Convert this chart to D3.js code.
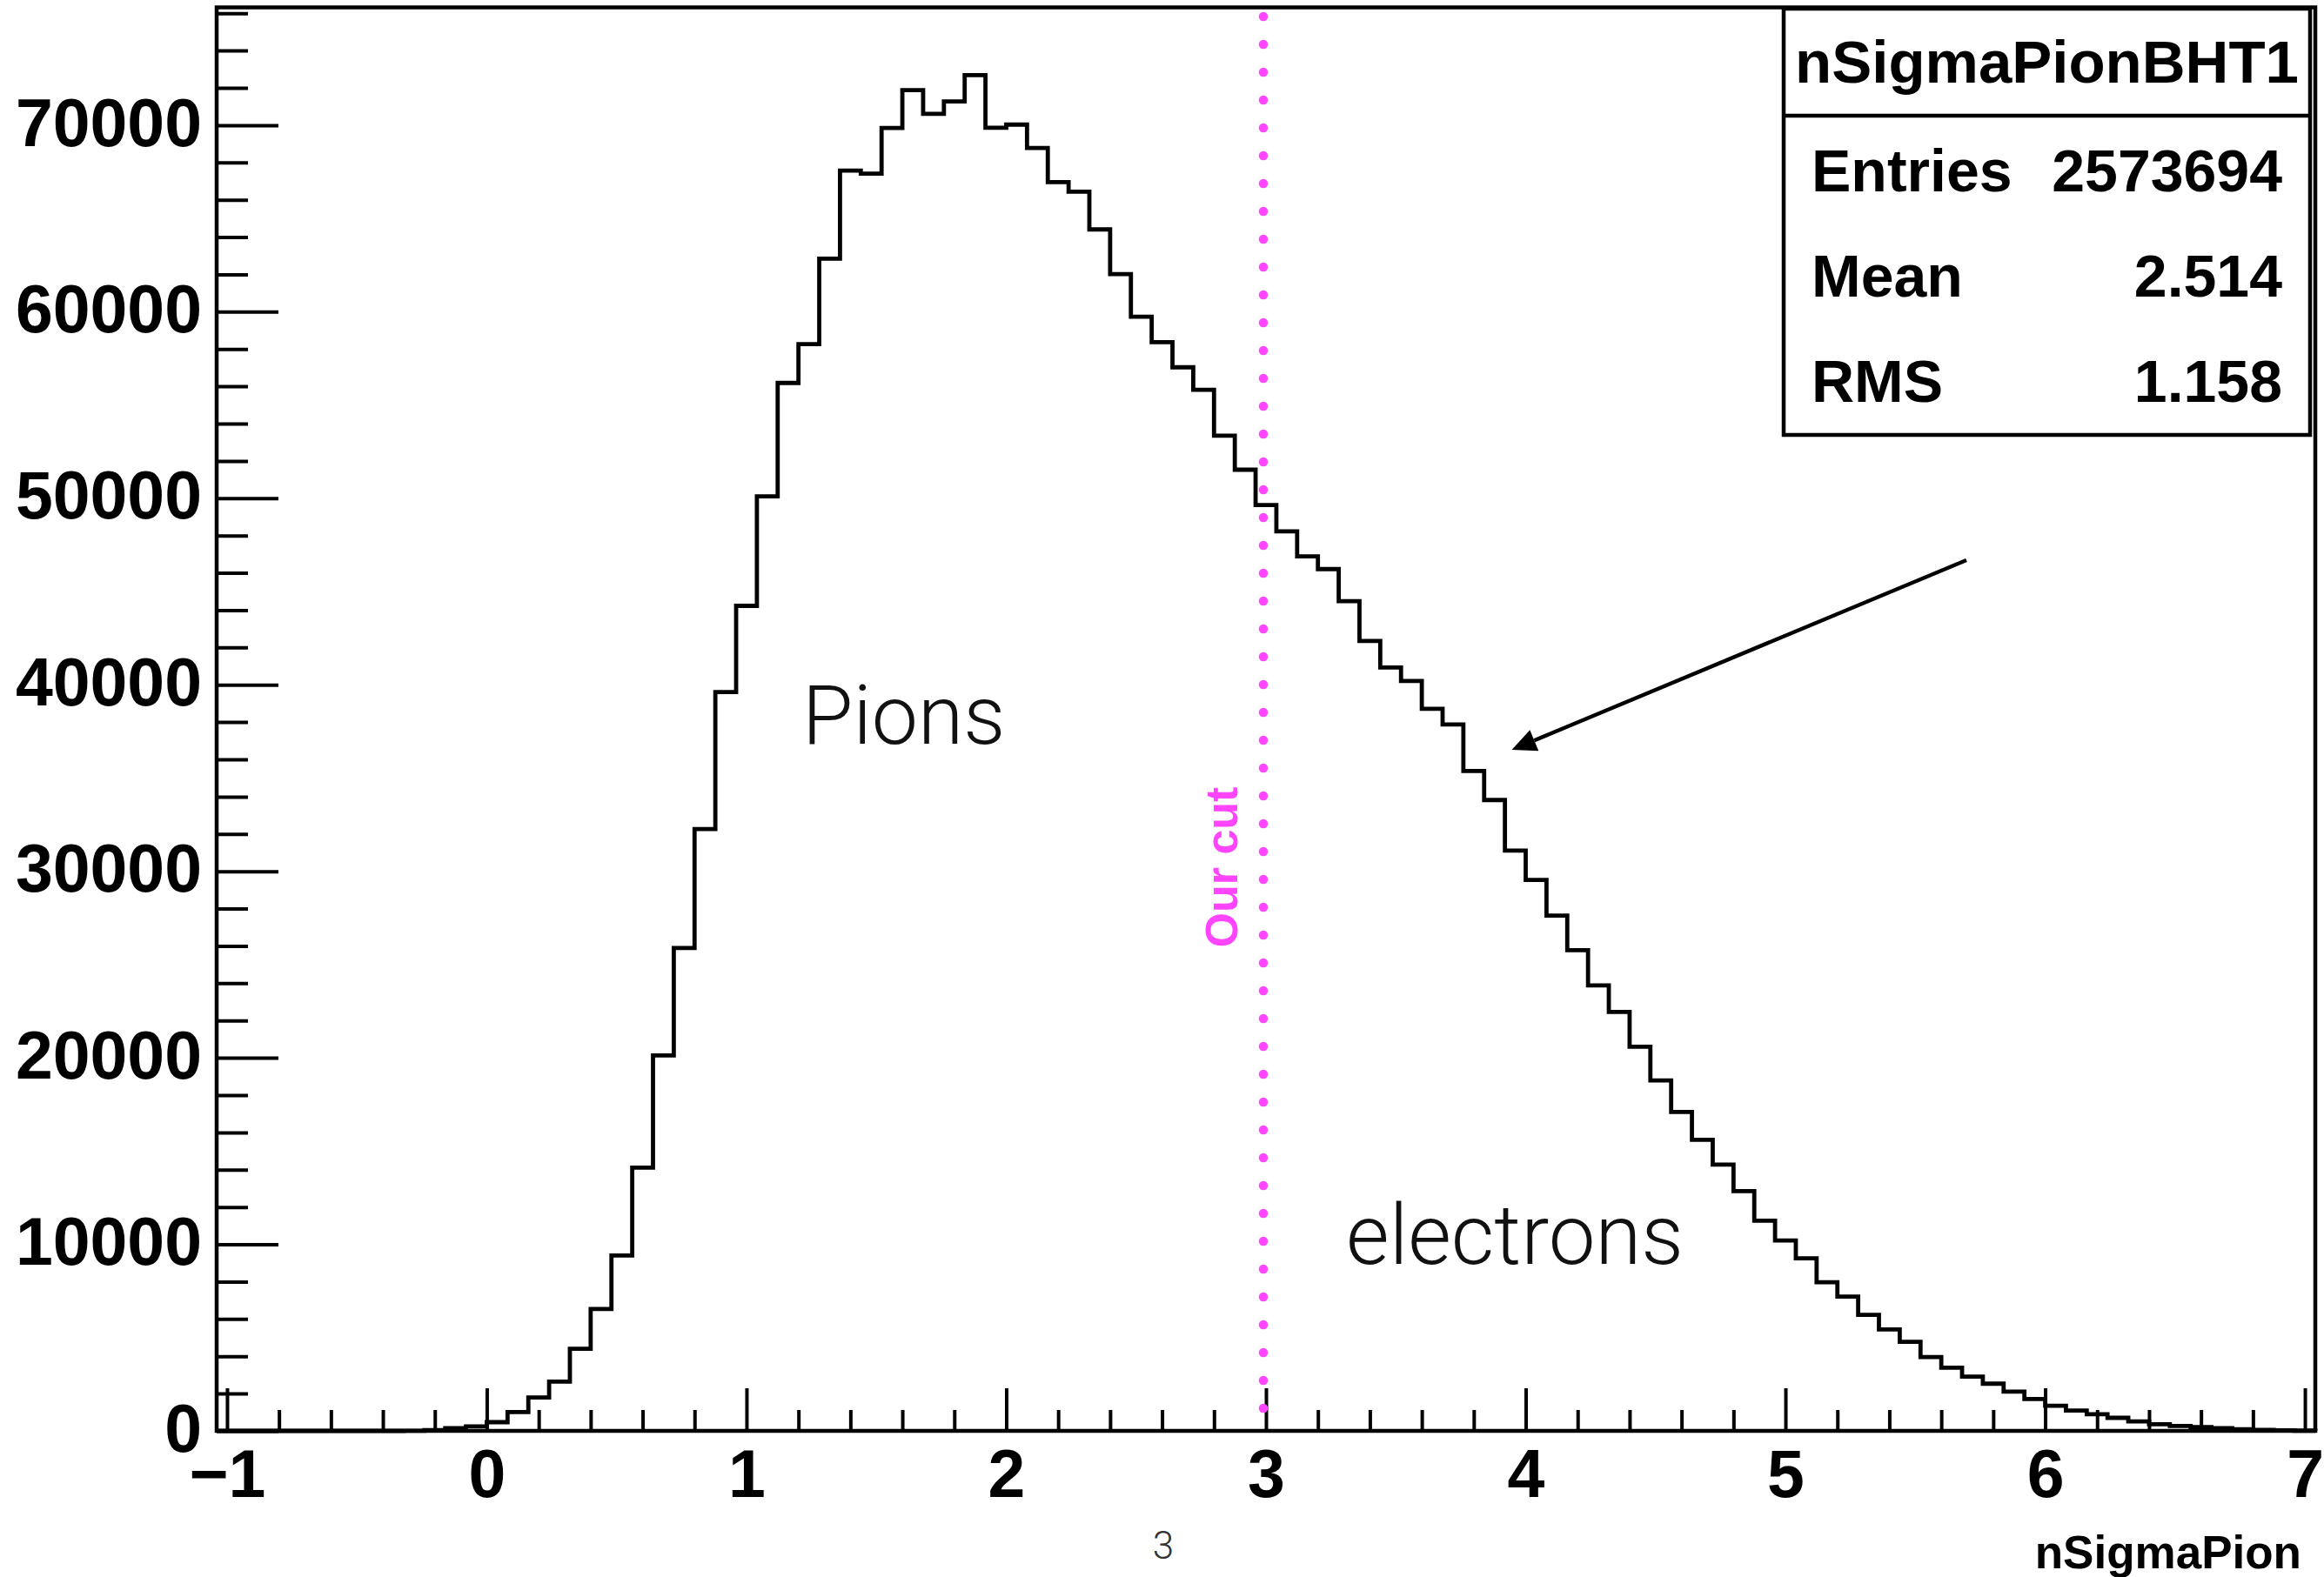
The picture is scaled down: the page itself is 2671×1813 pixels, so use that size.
<!DOCTYPE html>
<html lang="en">
<head>
  <meta charset="UTF-8">
  <title>nSigmaPion</title>

  <style>
    body {
      margin: 0;
      background-color: #ffffff;
    }
    svg {
      display: block;
      background-color: #ffffff;
    }
    .root-text {
      font-family: "Liberation Sans", Arial, Helvetica, sans-serif;
      font-weight: bold;
      fill: #000000;
    }
    .note {
      font-family: "Helvetica Neue", Roboto, Lato, "Open Sans", sans-serif;
      font-weight: 300;
      fill: #111111;
    }
  </style>

  <script type="text/javascript" src="https://cdn.jsdelivr.net/npm/d3@7"></script>
</head>

<body>
</body>

<script type="text/javascript">

  // histogram binning (TH1: 101 bins from -1.04 to 7.04)
  var xMin = -1.04, xMax = 7.04, binWidth = 0.08;

  var counts = [
    0, 0, 0, 0, 0, 0, 0, 0, 0, 10,
    45, 140, 235, 466, 1010, 1790, 2640, 4400, 6530, 9400,
    14110, 20130, 25890, 32260, 39610, 44230, 50100, 56180, 58260, 62840,
    67560, 67400, 69850, 71880, 70610, 71270, 72680, 69860, 70030, 68780,
    66950, 66430, 64410, 62020, 59730, 58370, 57020, 55810, 53350, 51530,
    49630, 48220, 46880, 46200, 44480, 42350, 40930, 40200, 38710, 37870,
    35380, 33820, 31110, 29540, 27620, 25770, 23880, 22460, 20590, 18790,
    17095, 15600, 14280, 12850, 11270, 10210, 9250, 7970, 7200, 6220,
    5440, 4770, 3960, 3390, 2910, 2530, 2100, 1710, 1350, 1090,
    890, 700, 510, 360, 265, 200, 140, 85, 50, 25,
    12
  ];

  var xMajorTicks = [-1, 0, 1, 2, 3, 4, 5, 6, 7];
  var xTickLabels = ["\u22121", "0", "1", "2", "3", "4", "5", "6", "7"];
  var yMajorTicks = [0, 10000, 20000, 30000, 40000, 50000, 60000, 70000];
  var yTickLabels = ["0", "10000", "20000", "30000", "40000", "50000", "60000", "70000"];

  var statsTitle = "nSigmaPionBHT1";
  var statsNames = ["Entries", "Mean", "RMS"];
  var statsValues = ["2573694", "2.514", "1.158"];

  var cutValue = 3;

  var width = 2671, height = 1813;
  var frame = {left: 249, right: 2661, top: 8.5, bottom: 1645};

  var yTop = d3.max(counts) * 1.05;

  var x = d3.scaleLinear().domain([xMin, xMax]).range([frame.left, frame.right]);
  var y = d3.scaleLinear().domain([0, yTop]).range([frame.bottom, frame.top]);

  var svg = d3.select("body")
    .append("svg")
    .attr("width", width)
    .attr("height", height);

  // minor ticks
  var xMinorTicks = d3.range(-1, 7.001, 0.2)
    .map(function(d) { return Math.round(d * 10) / 10; })
    .filter(function(d) { return Math.abs(d - Math.round(d)) > 1e-6; });
  var yMinorTicks = d3.range(0, yTop, 2000)
    .filter(function(d) { return d % 10000 !== 0; });

  var xMinorAxis = d3.axisBottom(x).tickValues(xMinorTicks).tickSize(-24).tickSizeOuter(0).tickFormat("");
  var xAxis = d3.axisBottom(x).tickValues(xMajorTicks).tickSize(-49).tickSizeOuter(0).tickPadding(21)
    .tickFormat(function(d, i) { return xTickLabels[i]; });
  var yMinorAxis = d3.axisLeft(y).tickValues(yMinorTicks).tickSize(-36).tickSizeOuter(0).tickFormat("");
  var yAxis = d3.axisLeft(y).tickValues(yMajorTicks).tickSize(-71).tickSizeOuter(0).tickPadding(17)
    .tickFormat(function(d, i) { return yTickLabels[i]; });

  function styleAxis(g) {
    g.select(".domain").remove();
    g.selectAll(".tick line").attr("stroke", "#000").attr("stroke-width", 4);
    g.selectAll(".tick text")
      .attr("class", "root-text")
      .style("font-size", "77px")
      .attr("fill", "#000");
  }

  svg.append("g").attr("transform", "translate(0," + frame.bottom + ")").call(xMinorAxis).call(styleAxis);
  svg.append("g").attr("transform", "translate(0," + frame.bottom + ")").call(xAxis).call(styleAxis);
  svg.append("g").attr("transform", "translate(" + frame.left + ",0)").call(yMinorAxis).call(styleAxis);
  var yg = svg.append("g").attr("transform", "translate(" + frame.left + ",0)").call(yAxis).call(styleAxis);
  yg.selectAll(".tick text").attr("dy", "0.3em");

  // histogram outline
  var pts = [[xMin, 0]];
  counts.forEach(function(c, i) {
    var lo = xMin + i * binWidth;
    pts.push([lo, c]);
    pts.push([lo + binWidth, c]);
  });
  pts.push([xMax, 0]);

  var line = d3.line()
    .x(function(d) { return x(d[0]); })
    .y(function(d) { return y(d[1]); });

  svg.append("path")
    .datum(pts)
    .attr("d", line)
    .attr("fill", "none")
    .attr("stroke", "#000")
    .attr("stroke-width", 4.8)
    .attr("stroke-linejoin", "miter");

  // frame
  svg.append("rect")
    .attr("x", frame.left)
    .attr("y", frame.top)
    .attr("width", frame.right - frame.left)
    .attr("height", frame.bottom - frame.top)
    .attr("fill", "none")
    .attr("stroke", "#000")
    .attr("stroke-width", 4.5);

  // cut line
  svg.append("line")
    .attr("x1", x(cutValue) - 3)
    .attr("x2", x(cutValue) - 3)
    .attr("y1", y(yTop) + 10.5)
    .attr("y2", y(0) - 25)
    .attr("stroke", "#ff45ff")
    .attr("stroke-width", 10.5)
    .attr("stroke-linecap", "round")
    .attr("stroke-dasharray", "0,32");

  svg.append("text")
    .attr("class", "root-text")
    .attr("transform", "translate(1422,997) rotate(-90)")
    .attr("text-anchor", "middle")
    .style("font-size", "52px")
    .style("fill", "#ff45ff")
    .text("Our cut");

  // annotations
  svg.append("text").attr("class", "note")
    .attr("x", 922).attr("y", 855)
    .style("font-size", "95px")
    .text("Pions");

  svg.append("text").attr("class", "note")
    .attr("x", 1547).attr("y", 1453)
    .style("font-size", "96px")
    .text("electrons");

  // arrow
  var a0 = [2260, 644], a1 = [1737.5, 862];
  var dx = a1[0] - a0[0], dy = a1[1] - a0[1];
  var len = Math.sqrt(dx * dx + dy * dy);
  var ux = dx / len, uy = dy / len;
  var headLen = 28, headHalf = 13;
  var base = [a1[0] - headLen * ux, a1[1] - headLen * uy];

  svg.append("line")
    .attr("x1", a0[0]).attr("y1", a0[1])
    .attr("x2", base[0]).attr("y2", base[1])
    .attr("stroke", "#000")
    .attr("stroke-width", 4.5);

  svg.append("polygon")
    .attr("points", [
      a1,
      [base[0] - headHalf * uy, base[1] + headHalf * ux],
      [base[0] + headHalf * uy, base[1] - headHalf * ux]
    ].map(function(p) { return p.join(","); }).join(" "))
    .attr("fill", "#000");

  // stats box
  var box = {x: 2050, y: 10, w: 605, h: 490, header: 133};

  svg.append("rect")
    .attr("x", box.x).attr("y", box.y)
    .attr("width", box.w).attr("height", box.h)
    .attr("fill", "#fff")
    .attr("stroke", "#000")
    .attr("stroke-width", 4.5);

  svg.append("line")
    .attr("x1", box.x).attr("x2", box.x + box.w)
    .attr("y1", box.header).attr("y2", box.header)
    .attr("stroke", "#000")
    .attr("stroke-width", 4.5);

  svg.append("text")
    .attr("class", "root-text")
    .attr("x", box.x + box.w / 2).attr("y", 95)
    .attr("text-anchor", "middle")
    .style("font-size", "69px")
    .text(statsTitle);

  var rowY = [220, 341, 462];

  svg.selectAll(".stat-name")
    .data(statsNames)
    .enter()
    .append("text")
    .attr("class", "root-text")
    .attr("x", 2082)
    .attr("y", function(d, i) { return rowY[i]; })
    .style("font-size", "68px")
    .text(function(d) { return d; });

  svg.selectAll(".stat-value")
    .data(statsValues)
    .enter()
    .append("text")
    .attr("class", "root-text")
    .attr("x", 2623)
    .attr("y", function(d, i) { return rowY[i]; })
    .attr("text-anchor", "end")
    .style("font-size", "68px")
    .text(function(d) { return d; });

  // axis title
  svg.append("text")
    .attr("class", "root-text")
    .attr("x", 2645).attr("y", 1803)
    .attr("text-anchor", "end")
    .style("font-size", "53px")
    .text("nSigmaPion");

  // slide number
  svg.append("text").attr("class", "note")
    .attr("x", 1337).attr("y", 1792)
    .attr("text-anchor", "middle")
    .style("font-size", "44px")
    .style("fill", "#333")
    .text("3");

</script>

</html>
